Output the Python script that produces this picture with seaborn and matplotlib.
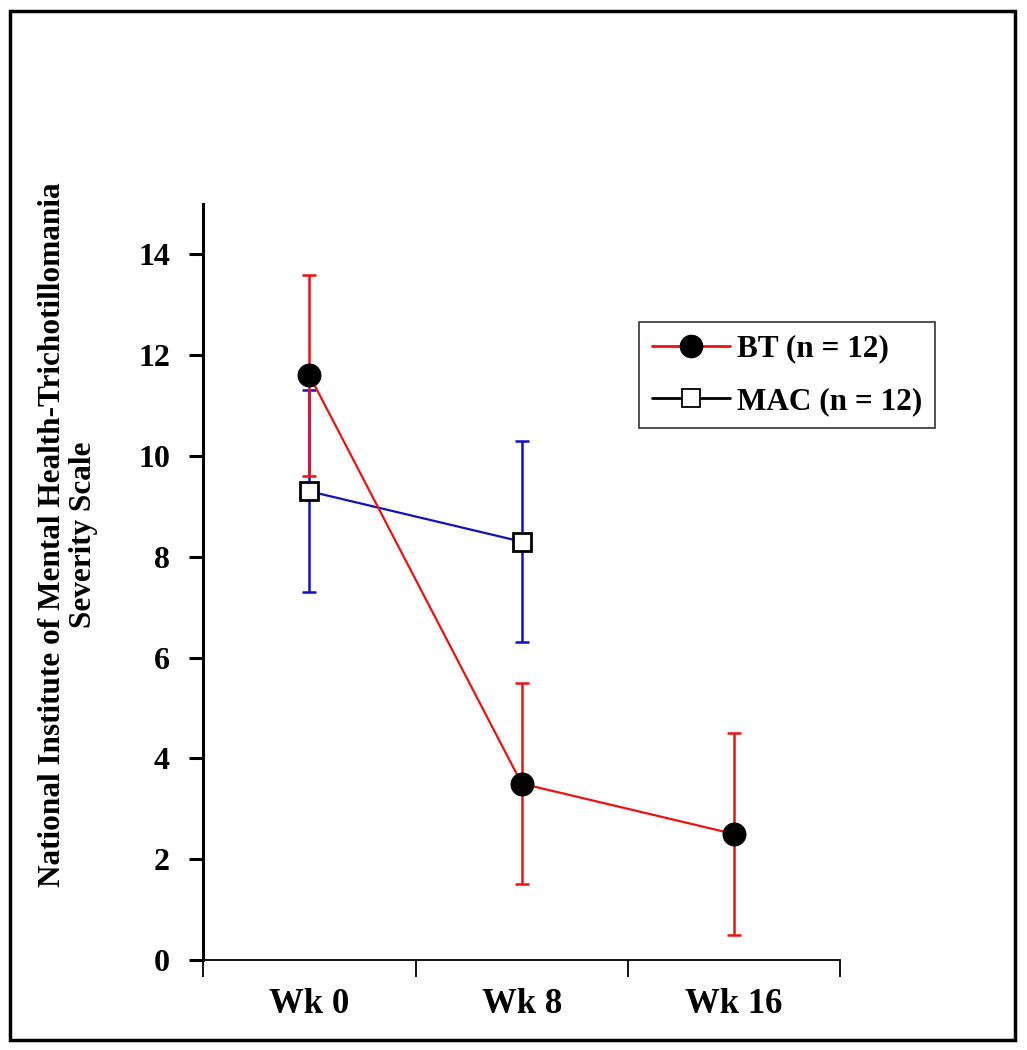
import numpy as np
import pandas as pd
import matplotlib
matplotlib.use("Agg")
import matplotlib.pyplot as plt
import seaborn as sns
from matplotlib.lines import Line2D
from matplotlib.patches import Rectangle

# data
weeks = ["Wk 0", "Wk 8", "Wk 16"]
bt_mean = [11.6, 3.5, 2.5]
bt_err = [2.0, 2.0, 2.0]
mac_weeks = ["Wk 0", "Wk 8"]
mac_mean = [9.3, 8.3]
mac_err = [2.0, 2.0]
y_ticks = [0, 2, 4, 6, 8, 10, 12, 14]
y_label = "National Institute of Mental Health-Trichotillomania\nSeverity Scale"

RED = "#f01010"
BLUE = "#1010c8"

sns.set_theme(style="white")
plt.rcParams["font.family"] = ["Liberation Serif", "DejaVu Serif"]
plt.rcParams["font.weight"] = "bold"
for k in ["text.color", "axes.labelcolor", "xtick.color", "ytick.color", "axes.edgecolor"]:
    plt.rcParams[k] = "black"

bt = pd.DataFrame({"x": [weeks.index(w) for w in weeks], "y": bt_mean, "err": bt_err})
mac = pd.DataFrame({"x": [weeks.index(w) for w in mac_weeks], "y": mac_mean, "err": mac_err})

fig = plt.figure(figsize=(10.27, 10.5), dpi=100)
ax = fig.add_axes([0.198, 0.0857, 0.62, 0.72])

# error bars first so markers sit on top
ax.errorbar(mac["x"], mac["y"], yerr=mac["err"], fmt="none", ecolor=BLUE,
            elinewidth=1.8, capsize=5, capthick=1.8, zorder=2)
ax.errorbar(bt["x"], bt["y"], yerr=bt["err"], fmt="none", ecolor=RED,
            elinewidth=1.8, capsize=5, capthick=1.8, zorder=2)

sns.lineplot(data=mac, x="x", y="y", ax=ax, color=BLUE, linewidth=1.6,
             marker="s", markersize=13, markerfacecolor="white",
             markeredgecolor="black", markeredgewidth=2, zorder=3)
sns.lineplot(data=bt, x="x", y="y", ax=ax, color=RED, linewidth=1.6,
             marker="o", markersize=16.5, markerfacecolor="black",
             markeredgecolor="black", zorder=4)

ax.set_xlim(-0.5, 2.5)
ax.set_ylim(0, 15)
ax.set_xticks([-0.5, 0.5, 1.5, 2.5])
ax.set_xticklabels([])
ax.set_xticks(range(len(weeks)), minor=True)
ax.set_xticklabels(weeks, minor=True, fontsize=25, fontweight="bold")
ax.tick_params(axis="x", which="major", direction="out", length=12, width=1.3,
               bottom=True)
ax.tick_params(axis="x", which="minor", length=0, pad=20)
ax.set_yticks(y_ticks)
ax.set_yticklabels([str(t) for t in y_ticks], fontsize=23, fontweight="bold")
ax.tick_params(axis="y", direction="out", length=10, width=2.2, left=True, pad=14)
ax.set_xlabel("")
ax.set_ylabel(y_label, fontsize=22.5, fontweight="bold", linespacing=1.1)
ax.yaxis.set_label_coords(-0.165, 0.562)

sns.despine(ax=ax)
ax.spines["left"].set_linewidth(2.2)
ax.spines["bottom"].set_linewidth(1.3)

handles = [
    Line2D([], [], color=RED, linewidth=2, marker="o", markersize=16,
           markerfacecolor="black", markeredgecolor="black"),
    Line2D([], [], color="black", linewidth=2, marker="s", markersize=13,
           markerfacecolor="white", markeredgecolor="black", markeredgewidth=1.3),
]
leg = ax.legend(handles, ["BT (n = 12)", "MAC (n = 12)"],
                loc="upper left", bbox_to_anchor=(639 / 1027, 1 - 322 / 1050),
                bbox_transform=fig.transFigure, borderaxespad=0,
                frameon=True, fancybox=False, edgecolor="black",
                handlelength=2.5, handletextpad=0.25, borderpad=0.4,
                labelspacing=0.75, prop={"weight": "bold", "size": 22.5})
leg.get_frame().set_linewidth(1.2)
leg.set_zorder(10)

# outer frame around the whole figure
fig.patches.append(Rectangle((0.0097, 0.0095), 0.9786, 0.98, transform=fig.transFigure,
                             fill=False, edgecolor="black", linewidth=2.5))

fig.savefig("out.png", dpi=100)
